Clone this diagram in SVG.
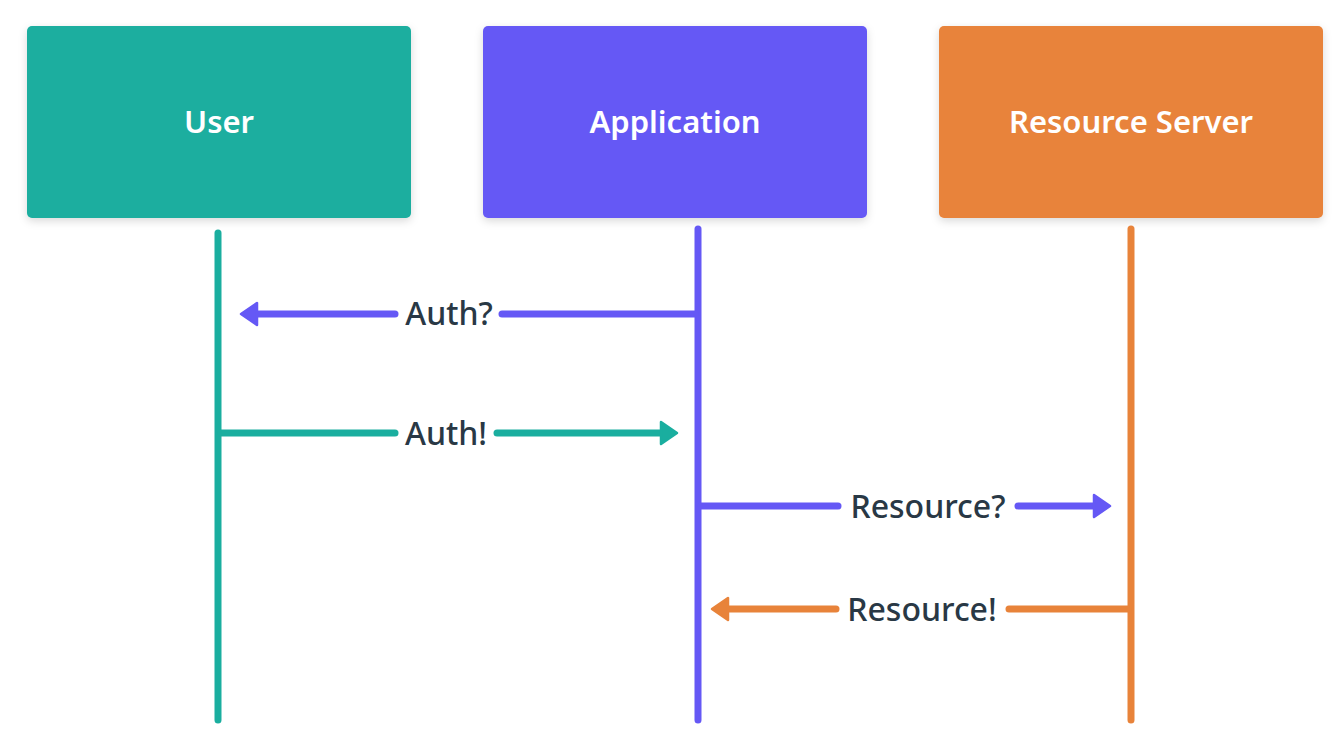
<svg xmlns="http://www.w3.org/2000/svg" width="1337" height="754" viewBox="0 0 1337 754">
<style>
.box{stroke:none;filter:url(#sh)}
.title{font-family:"Noto Sans",Lato,sans-serif;font-size:31px;font-weight:600;fill:#ffffff;text-anchor:middle}
.lbl{font-family:"Noto Sans",Lato,sans-serif;font-size:32px;font-weight:500;fill:#293845;text-anchor:middle}
.ln{stroke-width:7;stroke-linecap:round;fill:none}
.t{stroke:#1AAE9F}.p{stroke:#6558F5}.o{stroke:#E8833A}
</style>
<defs>
<filter id="sh" x="-10%" y="-10%" width="120%" height="130%">
<feDropShadow dx="0" dy="3" stdDeviation="4" flood-color="#000" flood-opacity="0.15"/>
</filter>
<marker id="ap" viewBox="0 0 20 26" refX="8" refY="13" markerWidth="20" markerHeight="26" orient="auto" markerUnits="userSpaceOnUse"><path d="M2,2 L18,13 L2,24 Z" fill="#6558F5" stroke="#6558F5" stroke-width="2.5" stroke-linejoin="round"/></marker>
<marker id="at" viewBox="0 0 20 26" refX="8" refY="13" markerWidth="20" markerHeight="26" orient="auto" markerUnits="userSpaceOnUse"><path d="M2,2 L18,13 L2,24 Z" fill="#1AAE9F" stroke="#1AAE9F" stroke-width="2.5" stroke-linejoin="round"/></marker>
<marker id="ao" viewBox="0 0 20 26" refX="8" refY="13" markerWidth="20" markerHeight="26" orient="auto" markerUnits="userSpaceOnUse"><path d="M2,2 L18,13 L2,24 Z" fill="#E8833A" stroke="#E8833A" stroke-width="2.5" stroke-linejoin="round"/></marker>
</defs>
<rect width="1337" height="754" fill="#ffffff"/>
<g id="user">
<rect class="box" x="27" y="26" width="384" height="192" rx="5" fill="#1AAE9F"/>
<text class="title" x="219" y="133">User</text>
</g>
<g id="application">
<rect class="box" x="483" y="26" width="384" height="192" rx="5" fill="#6558F5"/>
<text class="title" x="675" y="133">Application</text>
</g>
<g id="resource-server">
<rect class="box" x="939" y="26" width="384" height="192" rx="5" fill="#E8833A"/>
<text class="title" x="1131" y="133">Resource Server</text>
</g>
<g id="lifelines">
<line class="ln t" x1="218" y1="233" x2="218" y2="720"/>
<line class="ln p" x1="698" y1="229" x2="698" y2="720"/>
<line class="ln o" x1="1131" y1="229" x2="1131" y2="720"/>
</g>
<g id="connectors">
<line class="ln p" x1="695" y1="314" x2="502" y2="314"/>
<line class="ln p" x1="395" y1="314" x2="251" y2="314" marker-end="url(#ap)"/>
<text class="lbl" x="449" y="325">Auth?</text>
<line class="ln t" x1="221" y1="433" x2="395" y2="433"/>
<line class="ln t" x1="497" y1="433" x2="667" y2="433" marker-end="url(#at)"/>
<text class="lbl" x="446" y="445">Auth!</text>
<line class="ln p" x1="701" y1="506" x2="838" y2="506"/>
<line class="ln p" x1="1018" y1="506" x2="1100" y2="506" marker-end="url(#ap)"/>
<text class="lbl" x="928" y="518">Resource?</text>
<line class="ln o" x1="1128" y1="609" x2="1009" y2="609"/>
<line class="ln o" x1="836" y1="609" x2="722" y2="609" marker-end="url(#ao)"/>
<text class="lbl" x="922" y="621">Resource!</text>
</g>
</svg>
